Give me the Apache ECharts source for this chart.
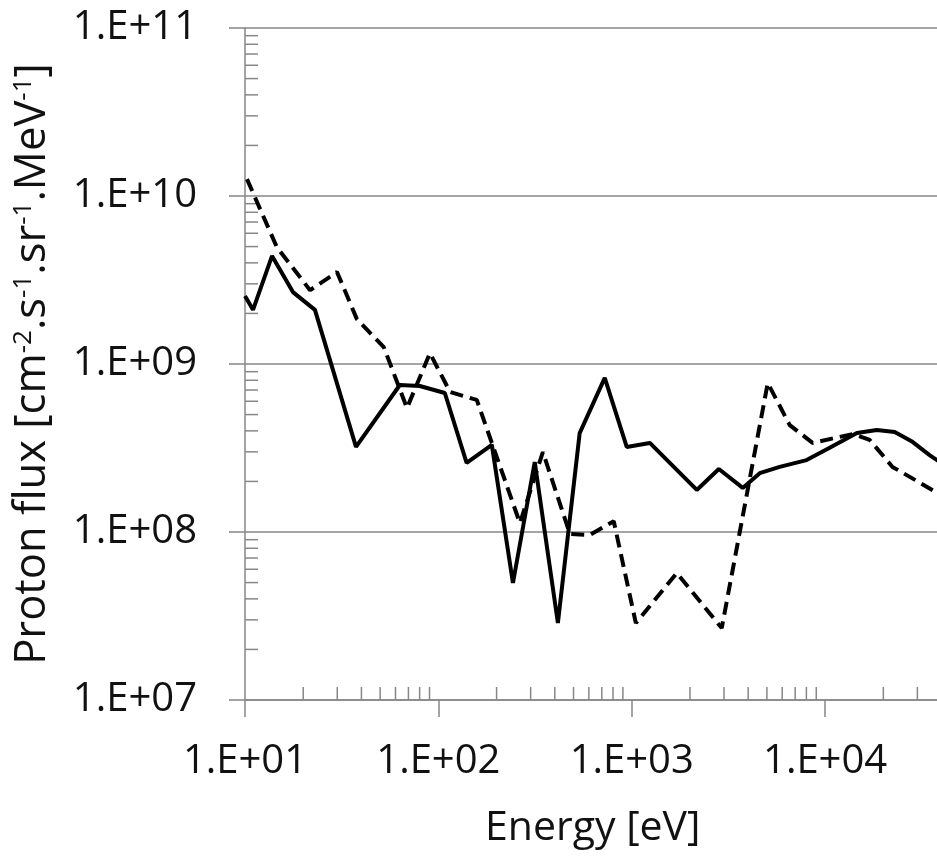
<!DOCTYPE html>
<html>
<head>
<meta charset="utf-8">
<script src="https://cdn.jsdelivr.net/npm/echarts@6/dist/echarts.min.js"></script>
<style>
  html, body { margin: 0; padding: 0; background: #fff; }
  #chart { width: 937px; height: 856px; }
</style>
</head>
<body>
<div id="chart"></div>
<script>
// ---- data ----
const solidEnergy = [10, 11.0, 13.8, 17.7, 23.0, 37.5, 63.2, 80.2, 108, 140, 189, 243, 315, 415, 538, 725, 942, 1240, 2170, 2820, 3750, 4590, 5820, 8020, 10500, 14600, 18500, 22900, 28300, 34700, 39100];
const solidFlux   = [2.54e9, 2.10e9, 4.40e9, 2.68e9, 2.10e9, 3.21e8, 7.50e8, 7.40e8, 6.72e8, 2.58e8, 3.30e8, 4.97e7, 2.61e8, 2.87e7, 3.88e8, 8.26e8, 3.21e8, 3.39e8, 1.78e8, 2.37e8, 1.83e8, 2.24e8, 2.44e8, 2.68e8, 3.16e8, 3.88e8, 4.05e8, 3.94e8, 3.44e8, 2.87e8, 2.61e8];

const dashedEnergy = [10.24, 14.6, 21.7, 29.9, 37.9, 52.2, 68.8, 90.4, 115, 158, 264, 347, 479, 607, 807, 1050, 1710, 2920, 5050, 6560, 8610, 13900, 17000, 22300, 39100];
const dashedFlux   = [1.26e10, 4.97e9, 2.75e9, 3.53e9, 1.85e9, 1.26e9, 5.47e8, 1.16e9, 6.81e8, 6.11e8, 1.13e8, 2.99e8, 9.73e7, 9.60e7, 1.16e8, 2.87e7, 5.70e7, 2.68e7, 7.71e8, 4.33e8, 3.39e8, 3.83e8, 3.53e8, 2.44e8, 1.68e8];

const xTickLabels = ['1.E+01', '1.E+02', '1.E+03', '1.E+04', '1.E+05'];
const yTickLabels = ['1.E+07', '1.E+08', '1.E+09', '1.E+10', '1.E+11'];
const xTitle = 'Energy [eV]';
const yTitleParts = ['Proton flux [cm', '-2', '.s', '-1', '.sr', '-1', '.MeV', '-1', ']'];

// minor tick positions (2..9 × each decade)
const minorMultipliers = [2, 3, 4, 5, 6, 7, 8, 9];
const xDecades = [10, 100, 1000, 10000];
const yDecades = [1e7, 1e8, 1e9, 1e10];

// ---- chart ----
const FONT = 'Open Sans';
const GRAY = '#878787';
const xMin = 10, xMax = 1e5, yMin = 1e7, yMax = 1e11;

const minorData = [];
xDecades.forEach(d => minorMultipliers.forEach(m => minorData.push([d * m, yMin, 0])));
yDecades.forEach(d => minorMultipliers.forEach(m => minorData.push([xMin, d * m, 1])));

function expLabel(list, base) {
  return function (v) {
    const e = Math.round(Math.log10(v));
    if (Math.abs(Math.log10(v) - e) > 1e-6) return '';
    return list[e - base] || '';
  };
}

const yTitle = yTitleParts.map((p, i) => (i % 2 === 1 ? '{sup|' + p + '}' : p)).join('');

const chart = echarts.init(document.getElementById('chart'), null, { renderer: 'canvas' });
chart.setOption({
  animation: false,
  backgroundColor: '#ffffff',
  grid: { left: 245, top: 28, right: -81.5, bottom: 156, outerBoundsMode: 'none', containLabel: false },
  xAxis: {
    type: 'log', logBase: 10, min: xMin, max: xMax,
    name: xTitle, nameLocation: 'middle', nameGap: 108,
    nameTextStyle: { fontFamily: FONT, fontSize: 41, color: '#111', padding: [0, 78, 0, 0] },
    axisLine: { show: true, lineStyle: { color: GRAY, width: 1.5 } },
    axisTick: { show: true, inside: false, length: 17, lineStyle: { color: GRAY, width: 1.5 } },
    minorTick: { show: false },
    splitLine: { show: false },
    axisLabel: { fontFamily: FONT, fontSize: 40, color: '#111', margin: 42, formatter: expLabel(xTickLabels, 1), showMaxLabel: true }
  },
  yAxis: {
    type: 'log', logBase: 10, min: yMin, max: yMax,
    name: yTitle, nameLocation: 'middle', nameGap: 190, nameRotate: 90,
    nameTextStyle: {
      fontFamily: FONT, fontSize: 43.5, color: '#111',
      rich: { sup: { fontFamily: FONT, fontSize: 26, color: '#111', verticalAlign: 'top' } }
    },
    axisLine: { show: true, lineStyle: { color: GRAY, width: 1.5 } },
    axisTick: { show: true, inside: false, length: 16, lineStyle: { color: GRAY, width: 1.5 } },
    splitLine: { show: true, lineStyle: { color: GRAY, width: 1.5 } },
    axisLabel: { fontFamily: FONT, fontSize: 40, color: '#111', margin: 48, formatter: expLabel(yTickLabels, 7) }
  },
  series: [
    {
      type: 'custom', silent: true, z: 1, clip: false,
      data: minorData,
      encode: { x: 0, y: 1 },
      renderItem: function (params, api) {
        const kind = api.value(2);
        const p = api.coord([api.value(0), api.value(1)]);
        const shape = kind === 0
          ? { x1: p[0], y1: p[1], x2: p[0], y2: p[1] - 13 }
          : { x1: p[0], y1: p[1], x2: p[0] + 13, y2: p[1] };
        return { type: 'line', shape: shape, style: { stroke: GRAY, lineWidth: 1.5 } };
      }
    },
    {
      name: 'solid', type: 'line', z: 3, showSymbol: false, symbol: 'none',
      data: solidEnergy.map((e, i) => [e, solidFlux[i]]),
      lineStyle: { color: '#000', width: 4, type: 'solid' }
    },
    {
      name: 'dashed', type: 'line', z: 3, showSymbol: false, symbol: 'none',
      data: dashedEnergy.map((e, i) => [e, dashedFlux[i]]),
      lineStyle: { color: '#000', width: 4, type: [13, 7] }
    }
  ]
});
</script>
</body>
</html>
